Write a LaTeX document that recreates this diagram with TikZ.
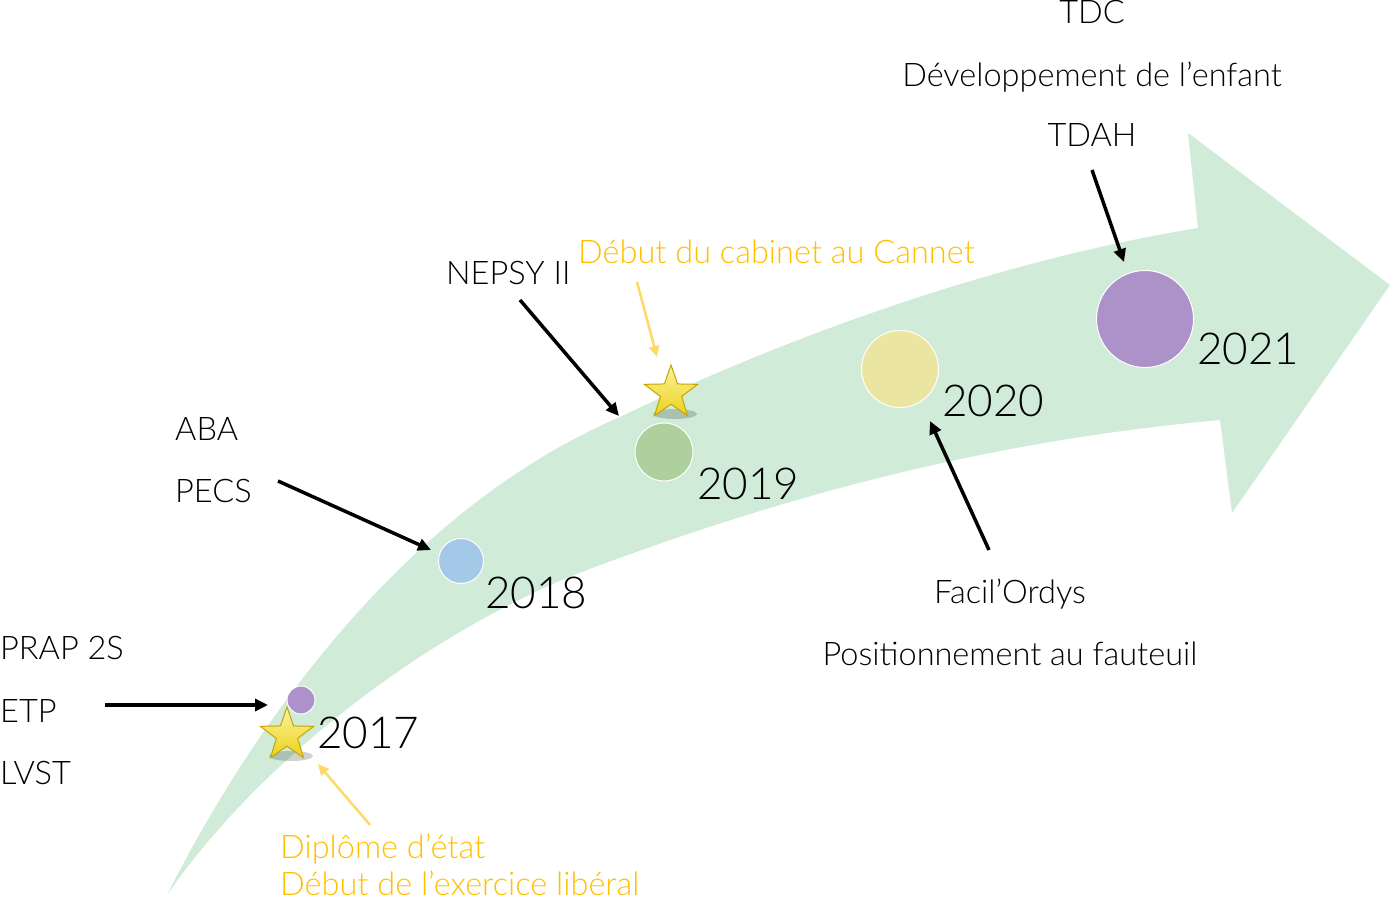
\documentclass[tikz,border=0pt]{standalone}
\usepackage{fontspec}
\setmainfont{Lato Light}
\usetikzlibrary{arrows.meta,shapes.geometric}
\definecolor{band}{HTML}{D0EBD8}
\definecolor{cpurple}{HTML}{AC92C8}
\definecolor{cblue}{HTML}{A3C8E8}
\definecolor{cgreen}{HTML}{ADD09D}
\definecolor{cyellow}{HTML}{EBE5A2}
\definecolor{orangetxt}{HTML}{FFC000}
\definecolor{orangearr}{HTML}{FFD966}
\definecolor{starfill}{HTML}{EAD21A}
\definecolor{starlight}{HTML}{FBF3A0}
\definecolor{staredge}{HTML}{C8A400}
\begin{document}
\begin{tikzpicture}[x=1pt,y=-1pt,
  lbl/.style={font=\fontsize{32.5}{32.5}\selectfont, inner sep=0pt},
  olbl/.style={lbl, text=orangetxt},
  year/.style={font=\fontsize{44}{44}\selectfont, inner sep=0pt, anchor=base west},
  dot/.style={circle, draw=white, line width=1pt, inner sep=0pt},
  blackarr/.style={line width=3.5pt, -{Triangle[length=13pt,width=12pt]}},
  orarr/.style={line width=2.5pt, draw=orangearr, -{Triangle[length=11pt,width=10pt]}},
  starbox/.style={star, star points=5, star point ratio=2.5, minimum size=56pt, inner sep=0pt,
     draw=staredge, line width=1pt, top color=starlight, bottom color=starfill},
  shadow/.style={black, opacity=0.18}
]
\useasboundingbox (0,0) rectangle (1390,901);
% band arrow
\fill[band] (167,895) .. controls (230,770) and (380,520) .. (620,417)
  .. controls (780,340) and (990,262) .. (1198,228)
  -- (1188,133) -- (1390,285) -- (1232,513) -- (1220,420)
  .. controls (1000,440) and (800,490) .. (587,570)
  .. controls (430,630) and (260,760) .. (167,895) -- cycle;

% circles
\node[dot, fill=cpurple, minimum size=28pt] (c17) at (301,700) {};
\node[dot, fill=cblue, minimum size=45pt] (c18) at (461,561) {};
\node[dot, fill=cgreen, minimum size=58pt] (c19) at (664,452) {};
\node[dot, fill=cyellow, minimum size=77pt] (c20) at (900,369) {};
\node[dot, fill=cpurple, minimum size=97pt] (c21) at (1145,319) {};

% stars with soft shadows
\fill[shadow] (291,756) ellipse (22pt and 5pt);
\fill[shadow] (675,414) ellipse (22pt and 5pt);
\node[starbox] (s17) at (287,735) {};
\node[starbox] (s19) at (671,393) {};

% years
\node[year] (y17) at (317,748) {2017};
\node[year] (y18) at (485,608) {2018};
\node[year] (y19) at (697,499) {2019};
\node[year] (y20) at (942,416) {2020};
\node[year] (y21) at (1197,365) {2021};

% labels
\node[lbl, anchor=base west] (prap) at (0,659) {PRAP 2S};
\node[lbl, anchor=base west] (etp) at (0,722) {ETP};
\node[lbl, anchor=base west] (lvst) at (0,784) {LVST};
\node[lbl, anchor=base west] (aba) at (175,440) {ABA};
\node[lbl, anchor=base west] (pecs) at (175,502) {PECS};
\node[lbl, anchor=base west] (nepsy) at (446,285) {NEPSY II};
\node[olbl, anchor=base west] (cab) at (578,264) {Début du cabinet au Cannet};
\node[lbl, anchor=base] (tdc) at (1092,24) {TDC};
\node[lbl, anchor=base] (dev) at (1092,87) {Développement de l’enfant};
\node[lbl, anchor=base] (tdah) at (1092,147) {TDAH};
\node[lbl, anchor=base] (facil) at (1010,603) {Facil’Ordys};
\node[lbl, anchor=base] (posi) at (1010,665) {Positionnement au fauteuil};
\node[olbl, anchor=base west] (dip) at (280,858) {Diplôme d’état};
\node[olbl, anchor=base west] (lib) at (280,895) {Début de l’exercice libéral};

% arrow coordinates
\coordinate (a1s) at (105,705); \coordinate (a1e) at (268,705);
\coordinate (a2s) at (278,481); \coordinate (a2e) at (431,550);
\coordinate (a3s) at (520,300); \coordinate (a3e) at (619,416);
\coordinate (a4s) at (1092,170); \coordinate (a4e) at (1124,262);
\coordinate (a5s) at (989,550); \coordinate (a5e) at (930,421);
\coordinate (o1s) at (637,282); \coordinate (o1e) at (657,357);
\coordinate (o2s) at (370,825); \coordinate (o2e) at (318,764);

\draw[blackarr] (a1s) -- (a1e);
\draw[blackarr] (a2s) -- (a2e);
\draw[blackarr] (a3s) -- (a3e);
\draw[blackarr] (a4s) -- (a4e);
\draw[blackarr] (a5s) -- (a5e);
\draw[orarr] (o1s) -- (o1e);
\draw[orarr] (o2s) -- (o2e);
\end{tikzpicture}
\end{document}
